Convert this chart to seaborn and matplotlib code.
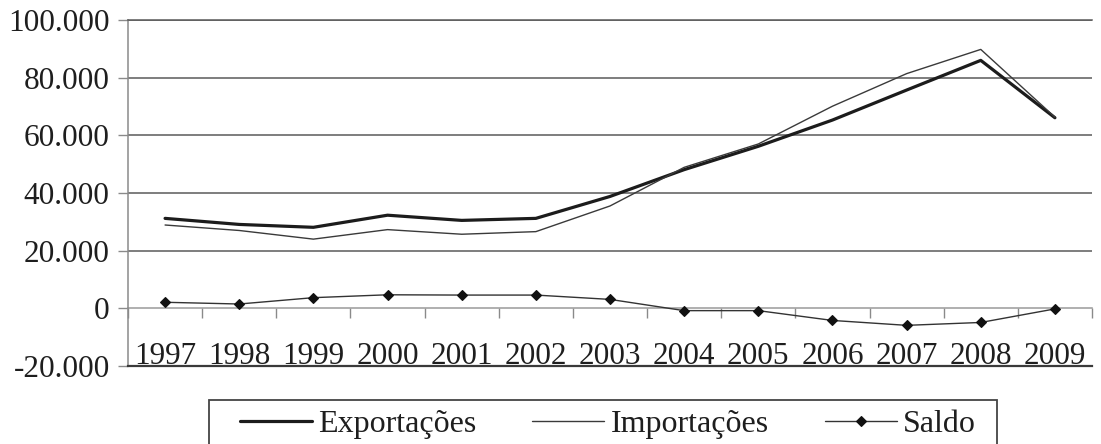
import numpy as np
import pandas as pd
import matplotlib
matplotlib.use("Agg")
import matplotlib.pyplot as plt
from matplotlib.patches import Rectangle
import seaborn as sns

# Comércio exterior, 1997-2009 (valores anuais)
anos = ["1997", "1998", "1999", "2000", "2001", "2002", "2003",
        "2004", "2005", "2006", "2007", "2008", "2009"]
exportacoes = [31200, 29100, 28100, 32300, 30500, 31200, 38800,
               48100, 56200, 65300, 75700, 86000, 66100]
importacoes = [28900, 27000, 24000, 27300, 25700, 26600, 35500,
               48900, 57000, 70100, 81400, 89800, 66300]
saldo = [2100, 1500, 3700, 4700, 4600, 4600, 3100,
         -800, -800, -4200, -5900, -4900, -200]

y_ticks = [-20000, 0, 20000, 40000, 60000, 80000, 100000]
y_tick_labels = ["-20.000", "0", "20.000", "40.000", "60.000", "80.000", "100.000"]

sns.set_theme(style="white")
plt.rcParams["font.family"] = ["Liberation Serif", "DejaVu Serif"]
plt.rcParams["text.color"] = "#1e1e1e"

df = pd.DataFrame({
    "Ano": anos,
    "Exportações": exportacoes,
    "Importações": importacoes,
    "Saldo": saldo,
})

fig = plt.figure(figsize=(11.01, 4.44), dpi=100)
W, H = 1101, 444
ax = fig.add_axes([128 / W, 1 - 366 / H, (1092 - 128) / W, (366 - 20) / H])

sns.lineplot(data=df, x="Ano", y="Exportações", ax=ax, sort=False,
             color="#1c1c1c", linewidth=2.3, label="Exportações")
sns.lineplot(data=df, x="Ano", y="Importações", ax=ax, sort=False,
             color="#3a3a3a", linewidth=1.0, label="Importações")
sns.lineplot(data=df, x="Ano", y="Saldo", ax=ax, sort=False,
             color="#333333", linewidth=1.0, marker="D", markersize=5.2,
             markerfacecolor="#111111", markeredgecolor="#111111",
             markeredgewidth=0.8, label="Saldo")

handles, labels = ax.get_legend_handles_labels()
if ax.get_legend() is not None:
    ax.get_legend().remove()

# Axes limits, ticks and labels
ax.set_xlim(-0.5, len(anos) - 0.5)
ax.set_ylim(y_ticks[0], y_ticks[-1])
ax.set_yticks(y_ticks, labels=y_tick_labels)
ax.set_xticks(range(len(anos)), labels=anos)
ax.set_xlabel("")
ax.set_ylabel("")

ax.tick_params(axis="y", left=True, direction="out", length=7.2, width=1.0,
               color="#8a8a8a", pad=6.0, labelsize=22.5, labelcolor="#1e1e1e")
ax.tick_params(axis="x", bottom=True, length=0, pad=-1.5,
               labelsize=22.5, labelcolor="#1e1e1e")
for lbl in ax.get_xticklabels():
    lbl.set_va("baseline")

# Horizontal gridlines
ax.set_axisbelow(True)
ax.grid(axis="y", color="#5a5a5a", linewidth=1.1)
ax.grid(axis="x", visible=False)
ax.yaxis.get_major_ticks()[1].gridline.set_visible(False)

ax.spines["right"].set_visible(False)
ax.spines["top"].set_visible(True)
ax.spines["top"].set_color("#5a5a5a")
ax.spines["top"].set_linewidth(1.1)
ax.spines["left"].set_color("#8a8a8a")
ax.spines["left"].set_linewidth(1.1)
ax.spines["bottom"].set_color("#3a3a3a")
ax.spines["bottom"].set_linewidth(1.6)

# Category axis along the zero line, with ticks between the years
sec = ax.secondary_xaxis(0, transform=ax.transData)
sec.set_xticks(np.arange(len(anos) + 1) - 0.5, labels=[])
sec.tick_params(axis="x", direction="out", length=7.5, width=1.0, color="#8a8a8a")
sec.spines["bottom"].set_color("#9a9a9a")
sec.spines["bottom"].set_linewidth(1.1)
sec.set_zorder(1)

# Legend below the plot
leg = fig.legend(handles, labels, loc="upper left",
                 bbox_to_anchor=(240 / W, 1 - 410 / H),
                 ncol=3, frameon=False, fontsize=23,
                 handlelength=2.25, handletextpad=0.2, columnspacing=1.75,
                 borderpad=0.0, borderaxespad=0.0)

fig.canvas.draw()
bb = leg.get_window_extent()
x0 = bb.x0 - 31
x1 = bb.x1 + 21
y_top = H - 400
frame = Rectangle((x0 / W, -0.1), (x1 - x0) / W, y_top / H + 0.1,
                  transform=fig.transFigure, fill=False,
                  edgecolor="#444444", linewidth=1.3, clip_on=False)
fig.add_artist(frame)

fig.savefig("out.png", dpi=100)
